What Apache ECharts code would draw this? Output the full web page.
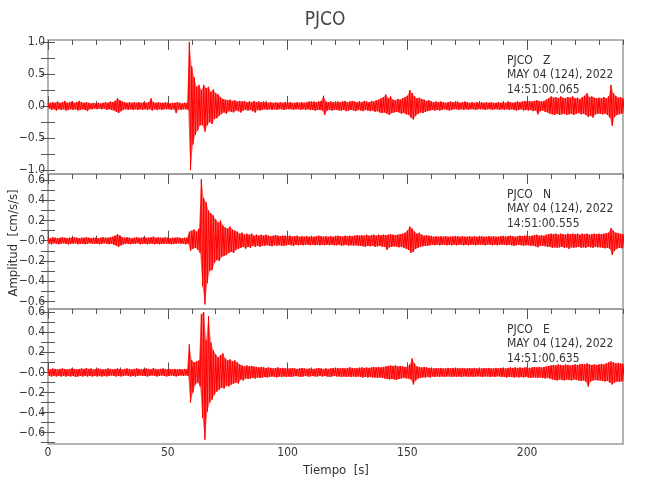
<!DOCTYPE html>
<html><head><meta charset="utf-8">
<script src="https://cdn.jsdelivr.net/npm/echarts@6/dist/echarts.min.js"></script>
<style>html,body{margin:0;padding:0;background:#fff}#c{width:650px;height:500px}</style>
</head><body><div id="c"></div>
<script>
const FONT = "'Liberation Sans Narrow','DejaVu Sans Condensed','Arial Narrow',sans-serif";
const stationName = 'PJCO';
const components = ['Z', 'N', 'E'];
const dateLabel = 'MAY 04 (124), 2022';
const startTimes = ['14:51:00.065', '14:51:00.555', '14:51:00.635'];
const xLabel = 'Tiempo  [s]';
const yLabel = 'Amplitud  [cm/s/s]';
const xMajorTicks = [0, 50, 100, 150, 200];
const xMinorTicks = [10, 20, 30, 40, 60, 70, 80, 90, 110, 120, 130, 140, 160, 170, 180, 190, 210, 220, 230, 240];
const xRange = [0, 240];
const yRanges = [[-1.06, 1.03], [-0.675, 0.66], [-0.713, 0.632]];
const yLabelValues = [
  [1, 0.5, 0, -0.5, -1],
  [0.6, 0.4, 0.2, 0, -0.2, -0.4, -0.6],
  [0.6, 0.4, 0.2, 0, -0.2, -0.4, -0.6]
];
const yLabelText = [
  ['1.0', '0.5', '0.0', '\u22120.5', '\u22121.0'],
  ['0.6', '0.4', '0.2', '\u22120.0', '\u22120.2', '\u22120.4', '\u22120.6'],
  ['0.6', '0.4', '0.2', '\u22120.0', '\u22120.2', '\u22120.4', '\u22120.6']
];
const yTickValues = [
  [1, 0.75, 0.5, 0.25, 0, -0.25, -0.5, -0.75, -1],
  [0.6, 0.5, 0.4, 0.3, 0.2, 0.1, 0, -0.1, -0.2, -0.3, -0.4, -0.5, -0.6],
  [0.6, 0.5, 0.4, 0.3, 0.2, 0.1, 0, -0.1, -0.2, -0.3, -0.4, -0.5, -0.6, -0.7]
];

// time of each envelope sample (s)
const seconds = Array.from({length: 241}, (_, i) => i);

// Z component: upper / lower envelope per second
const zUp = [
0.04,0.05,0.06,0.05,0.07,0.05,0.06,0.08,0.05,0.06,
0.07,0.05,0.06,0.08,0.06,0.05,0.06,0.05,0.04,0.05,
0.04,0.05,0.04,0.05,0.06,0.05,0.07,0.06,0.08,0.12,
0.09,0.07,0.06,0.05,0.06,0.05,0.06,0.05,0.06,0.05,
0.06,0.05,0.06,0.12,0.06,0.05,0.06,0.05,0.05,0.06,
0.05,0.04,0.05,0.05,0.06,0.05,0.04,0.05,0.05,1.0,
0.62,0.45,0.3,0.33,0.25,0.33,0.28,0.3,0.22,0.26,
0.2,0.18,0.14,0.11,0.1,0.09,0.1,0.08,0.09,0.07,
0.08,0.07,0.08,0.06,0.07,0.06,0.08,0.06,0.07,0.06,
0.06,0.07,0.05,0.06,0.05,0.06,0.05,0.06,0.05,0.06,
0.05,0.06,0.05,0.05,0.06,0.05,0.06,0.05,0.06,0.07,
0.06,0.07,0.06,0.07,0.08,0.16,0.07,0.06,0.07,0.06,
0.06,0.07,0.06,0.07,0.08,0.06,0.07,0.08,0.07,0.06,
0.07,0.06,0.08,0.07,0.06,0.08,0.07,0.09,0.1,0.12,
0.14,0.18,0.12,0.15,0.1,0.09,0.11,0.1,0.12,0.14,
0.16,0.25,0.2,0.15,0.12,0.13,0.11,0.1,0.08,0.09,
0.07,0.06,0.07,0.06,0.07,0.06,0.05,0.06,0.07,0.06,
0.06,0.07,0.05,0.06,0.07,0.06,0.05,0.06,0.05,0.06,
0.05,0.06,0.05,0.06,0.05,0.06,0.05,0.05,0.06,0.05,
0.06,0.05,0.07,0.06,0.05,0.06,0.07,0.06,0.07,0.08,
0.07,0.08,0.07,0.08,0.09,0.08,0.07,0.08,0.1,0.12,
0.15,0.13,0.14,0.12,0.15,0.13,0.12,0.14,0.13,0.15,
0.12,0.13,0.11,0.14,0.16,0.2,0.14,0.15,0.13,0.12,
0.13,0.12,0.14,0.12,0.15,0.33,0.2,0.16,0.13,0.14,0.12
];
const zLo = [
-0.04,-0.06,-0.05,-0.07,-0.05,-0.06,-0.05,-0.07,-0.06,-0.05,
-0.06,-0.05,-0.07,-0.06,-0.05,-0.06,-0.08,-0.05,-0.05,-0.04,
-0.05,-0.04,-0.05,-0.04,-0.06,-0.05,-0.06,-0.07,-0.09,-0.11,
-0.08,-0.06,-0.05,-0.06,-0.05,-0.06,-0.05,-0.06,-0.05,-0.06,
-0.05,-0.06,-0.05,-0.07,-0.05,-0.06,-0.05,-0.06,-0.05,-0.05,
-0.05,-0.06,-0.05,-0.11,-0.05,-0.06,-0.05,-0.05,-0.06,-1.0,
-0.6,-0.45,-0.38,-0.3,-0.3,-0.4,-0.3,-0.25,-0.28,-0.2,
-0.19,-0.15,-0.12,-0.1,-0.12,-0.08,-0.09,-0.1,-0.07,-0.08,
-0.1,-0.07,-0.06,-0.07,-0.06,-0.08,-0.1,-0.06,-0.07,-0.06,
-0.05,-0.06,-0.05,-0.06,-0.05,-0.06,-0.05,-0.05,-0.06,-0.05,
-0.05,-0.05,-0.06,-0.05,-0.05,-0.06,-0.05,-0.06,-0.05,-0.06,
-0.06,-0.07,-0.06,-0.06,-0.07,-0.14,-0.07,-0.06,-0.07,-0.06,
-0.06,-0.07,-0.07,-0.06,-0.08,-0.07,-0.06,-0.07,-0.08,-0.06,
-0.07,-0.08,-0.06,-0.07,-0.08,-0.07,-0.09,-0.08,-0.1,-0.11,
-0.1,-0.12,-0.14,-0.11,-0.1,-0.09,-0.1,-0.12,-0.11,-0.13,
-0.14,-0.18,-0.21,-0.15,-0.12,-0.1,-0.11,-0.09,-0.08,-0.07,
-0.06,-0.07,-0.06,-0.07,-0.06,-0.05,-0.06,-0.07,-0.06,-0.05,
-0.05,-0.06,-0.05,-0.06,-0.05,-0.06,-0.05,-0.05,-0.06,-0.05,
-0.05,-0.05,-0.06,-0.05,-0.05,-0.06,-0.05,-0.05,-0.06,-0.05,
-0.06,-0.05,-0.06,-0.05,-0.06,-0.07,-0.06,-0.05,-0.07,-0.06,
-0.07,-0.06,-0.08,-0.07,-0.13,-0.08,-0.07,-0.09,-0.1,-0.12,
-0.13,-0.14,-0.12,-0.14,-0.13,-0.12,-0.14,-0.13,-0.12,-0.14,
-0.12,-0.11,-0.13,-0.12,-0.14,-0.17,-0.15,-0.18,-0.13,-0.12,
-0.12,-0.13,-0.12,-0.14,-0.18,-0.31,-0.17,-0.14,-0.13,-0.12,-0.11
];

// N component
const nUp = [
0.03,0.025,0.035,0.03,0.025,0.03,0.035,0.03,0.025,0.03,
0.03,0.035,0.03,0.025,0.03,0.03,0.035,0.03,0.025,0.03,
0.03,0.025,0.03,0.035,0.03,0.03,0.035,0.04,0.05,0.065,
0.05,0.035,0.03,0.035,0.03,0.025,0.03,0.035,0.03,0.03,
0.035,0.03,0.03,0.035,0.04,0.03,0.035,0.03,0.03,0.035,
0.03,0.025,0.03,0.03,0.035,0.03,0.025,0.03,0.03,0.09,
0.1,0.11,0.09,0.12,0.61,0.42,0.38,0.3,0.27,0.25,
0.21,0.18,0.2,0.15,0.13,0.12,0.14,0.11,0.1,0.09,
0.07,0.08,0.06,0.07,0.06,0.07,0.05,0.06,0.05,0.06,
0.05,0.06,0.05,0.045,0.05,0.055,0.05,0.045,0.05,0.05,
0.045,0.05,0.04,0.045,0.05,0.04,0.045,0.04,0.045,0.04,
0.045,0.04,0.045,0.05,0.045,0.04,0.045,0.04,0.045,0.04,
0.045,0.05,0.045,0.04,0.05,0.045,0.05,0.045,0.05,0.055,
0.05,0.055,0.05,0.06,0.05,0.055,0.06,0.05,0.06,0.055,
0.06,0.055,0.06,0.065,0.06,0.055,0.06,0.065,0.07,0.08,
0.1,0.14,0.12,0.09,0.07,0.08,0.06,0.05,0.055,0.05,
0.045,0.04,0.045,0.04,0.045,0.04,0.045,0.04,0.04,0.045,
0.04,0.045,0.04,0.045,0.04,0.04,0.045,0.04,0.045,0.04,
0.04,0.045,0.04,0.04,0.045,0.04,0.045,0.04,0.04,0.045,
0.045,0.04,0.045,0.05,0.045,0.04,0.045,0.05,0.045,0.05,
0.05,0.045,0.05,0.055,0.06,0.05,0.055,0.05,0.06,0.065,
0.07,0.065,0.07,0.06,0.07,0.065,0.06,0.07,0.065,0.07,
0.065,0.07,0.06,0.07,0.065,0.07,0.06,0.065,0.07,0.065,
0.07,0.065,0.07,0.075,0.08,0.125,0.1,0.08,0.075,0.07,0.065
];
const nLo = [
-0.03,-0.035,-0.025,-0.03,-0.035,-0.03,-0.025,-0.03,-0.035,-0.03,
-0.03,-0.025,-0.035,-0.03,-0.03,-0.035,-0.03,-0.025,-0.03,-0.03,
-0.03,-0.035,-0.03,-0.025,-0.03,-0.035,-0.03,-0.04,-0.05,-0.06,
-0.045,-0.035,-0.03,-0.03,-0.035,-0.03,-0.03,-0.025,-0.035,-0.03,
-0.03,-0.035,-0.03,-0.03,-0.035,-0.03,-0.035,-0.03,-0.03,-0.03,
-0.03,-0.035,-0.03,-0.03,-0.025,-0.03,-0.03,-0.035,-0.03,-0.1,
-0.08,-0.07,-0.09,-0.12,-0.45,-0.63,-0.42,-0.3,-0.29,-0.22,
-0.19,-0.2,-0.16,-0.15,-0.14,-0.12,-0.11,-0.12,-0.09,-0.08,
-0.07,-0.06,-0.08,-0.06,-0.07,-0.05,-0.06,-0.05,-0.06,-0.05,
-0.05,-0.045,-0.05,-0.055,-0.045,-0.05,-0.045,-0.05,-0.05,-0.045,
-0.04,-0.045,-0.05,-0.04,-0.045,-0.04,-0.045,-0.04,-0.04,-0.045,
-0.04,-0.045,-0.04,-0.045,-0.04,-0.045,-0.04,-0.045,-0.04,-0.045,
-0.045,-0.04,-0.05,-0.045,-0.04,-0.05,-0.045,-0.05,-0.045,-0.05,
-0.05,-0.055,-0.06,-0.05,-0.055,-0.05,-0.06,-0.055,-0.05,-0.06,
-0.06,-0.09,-0.065,-0.06,-0.055,-0.06,-0.065,-0.06,-0.07,-0.08,
-0.09,-0.12,-0.11,-0.08,-0.07,-0.06,-0.055,-0.05,-0.05,-0.045,
-0.04,-0.045,-0.04,-0.045,-0.04,-0.04,-0.045,-0.04,-0.045,-0.04,
-0.045,-0.04,-0.04,-0.045,-0.04,-0.045,-0.04,-0.04,-0.045,-0.04,
-0.04,-0.04,-0.045,-0.04,-0.04,-0.045,-0.04,-0.045,-0.04,-0.04,
-0.04,-0.045,-0.04,-0.045,-0.05,-0.045,-0.04,-0.045,-0.05,-0.045,
-0.045,-0.05,-0.05,-0.055,-0.065,-0.05,-0.05,-0.055,-0.06,-0.06,
-0.07,-0.065,-0.07,-0.065,-0.06,-0.07,-0.065,-0.08,-0.065,-0.07,
-0.065,-0.06,-0.07,-0.065,-0.07,-0.06,-0.065,-0.07,-0.06,-0.065,
-0.065,-0.07,-0.075,-0.07,-0.08,-0.14,-0.1,-0.08,-0.07,-0.075,-0.07
];

// E component
const eUp = [
0.035,0.03,0.04,0.035,0.03,0.035,0.04,0.035,0.03,0.035,
0.04,0.035,0.03,0.035,0.04,0.035,0.045,0.035,0.04,0.03,
0.035,0.04,0.035,0.03,0.035,0.04,0.035,0.03,0.035,0.04,
0.035,0.03,0.035,0.04,0.035,0.03,0.035,0.04,0.035,0.03,
0.035,0.04,0.035,0.03,0.045,0.035,0.03,0.035,0.04,0.035,
0.03,0.035,0.03,0.035,0.03,0.035,0.03,0.035,0.03,0.28,
0.12,0.1,0.11,0.12,0.58,0.6,0.32,0.56,0.3,0.22,
0.18,0.15,0.17,0.19,0.14,0.12,0.13,0.11,0.12,0.1,
0.08,0.07,0.06,0.07,0.06,0.065,0.06,0.055,0.05,0.055,
0.05,0.045,0.05,0.045,0.04,0.045,0.05,0.04,0.045,0.04,
0.045,0.04,0.045,0.04,0.035,0.04,0.045,0.04,0.035,0.04,
0.04,0.035,0.04,0.045,0.04,0.035,0.04,0.035,0.04,0.045,
0.04,0.045,0.04,0.045,0.04,0.045,0.05,0.045,0.04,0.045,
0.045,0.05,0.045,0.05,0.045,0.05,0.055,0.05,0.055,0.05,
0.055,0.06,0.065,0.07,0.065,0.07,0.06,0.065,0.06,0.055,
0.06,0.08,0.14,0.09,0.06,0.055,0.05,0.055,0.05,0.045,
0.045,0.04,0.045,0.04,0.045,0.04,0.04,0.045,0.04,0.045,
0.04,0.045,0.04,0.045,0.04,0.04,0.045,0.04,0.045,0.04,
0.04,0.04,0.045,0.04,0.045,0.04,0.04,0.045,0.04,0.045,
0.045,0.04,0.045,0.05,0.045,0.05,0.045,0.05,0.045,0.05,
0.05,0.045,0.05,0.055,0.05,0.055,0.05,0.055,0.06,0.065,
0.07,0.075,0.07,0.08,0.075,0.07,0.08,0.075,0.07,0.075,
0.08,0.075,0.08,0.085,0.08,0.09,0.08,0.075,0.08,0.075,
0.08,0.085,0.08,0.09,0.1,0.11,0.1,0.09,0.095,0.09,0.085
];
const eLo = [
-0.035,-0.04,-0.035,-0.04,-0.035,-0.04,-0.035,-0.04,-0.035,-0.04,
-0.035,-0.045,-0.04,-0.035,-0.04,-0.035,-0.04,-0.035,-0.04,-0.035,
-0.04,-0.035,-0.04,-0.035,-0.04,-0.035,-0.03,-0.035,-0.04,-0.035,
-0.04,-0.035,-0.03,-0.035,-0.04,-0.035,-0.04,-0.035,-0.03,-0.035,
-0.035,-0.04,-0.035,-0.03,-0.035,-0.04,-0.035,-0.03,-0.035,-0.04,
-0.035,-0.03,-0.035,-0.04,-0.035,-0.03,-0.035,-0.03,-0.035,-0.3,
-0.2,-0.12,-0.1,-0.14,-0.45,-0.67,-0.39,-0.3,-0.27,-0.22,
-0.19,-0.17,-0.15,-0.16,-0.13,-0.14,-0.12,-0.11,-0.1,-0.11,
-0.07,-0.08,-0.06,-0.065,-0.06,-0.055,-0.06,-0.05,-0.055,-0.05,
-0.045,-0.05,-0.045,-0.04,-0.045,-0.05,-0.04,-0.045,-0.04,-0.045,
-0.04,-0.045,-0.04,-0.035,-0.04,-0.045,-0.04,-0.035,-0.04,-0.04,
-0.035,-0.04,-0.04,-0.035,-0.04,-0.035,-0.04,-0.045,-0.04,-0.035,
-0.04,-0.04,-0.045,-0.04,-0.045,-0.04,-0.045,-0.04,-0.045,-0.04,
-0.045,-0.05,-0.045,-0.05,-0.045,-0.05,-0.05,-0.055,-0.05,-0.055,
-0.06,-0.065,-0.07,-0.065,-0.07,-0.075,-0.065,-0.06,-0.055,-0.06,
-0.06,-0.07,-0.12,-0.08,-0.06,-0.055,-0.05,-0.05,-0.045,-0.05,
-0.04,-0.045,-0.04,-0.045,-0.04,-0.045,-0.04,-0.04,-0.045,-0.04,
-0.045,-0.04,-0.045,-0.04,-0.04,-0.045,-0.04,-0.045,-0.04,-0.04,
-0.04,-0.045,-0.04,-0.04,-0.045,-0.04,-0.045,-0.04,-0.04,-0.045,
-0.045,-0.05,-0.045,-0.045,-0.05,-0.045,-0.05,-0.045,-0.05,-0.045,
-0.05,-0.055,-0.05,-0.05,-0.055,-0.05,-0.055,-0.06,-0.055,-0.06,
-0.07,-0.075,-0.08,-0.07,-0.075,-0.08,-0.07,-0.075,-0.08,-0.07,
-0.075,-0.08,-0.085,-0.08,-0.09,-0.14,-0.09,-0.08,-0.075,-0.08,
-0.08,-0.085,-0.09,-0.085,-0.1,-0.12,-0.1,-0.09,-0.095,-0.09,-0.085
];

const envelopes = [[zUp, zLo], [nUp, nLo], [eUp, eLo]];

function zigzag(up, lo) {
  const d = [];
  for (let i = 0; i < seconds.length; i++) {
    d.push([seconds[i], up[i]]);
    d.push([seconds[i] + 0.5, lo[i]]);
  }
  return d;
}

const GRID_LEFT = 48, GRID_W = 575;
const gridTops = [40, 174, 309];
const gridHeights = [134, 135, 135];
const TICK = '#555';
const FRAME = '#9a9a9a';
const TXT = '#333';
const RED = '#ff0000';

const grid = [], xAxis = [], yAxis = [], series = [];
for (let k = 0; k < 3; k++) {
  grid.push({left: GRID_LEFT, top: gridTops[k], width: GRID_W, height: gridHeights[k],
    show: true, borderColor: FRAME, borderWidth: 1.5, backgroundColor: 'transparent'});
  const xBase = {gridIndex: k, type: 'value', min: xRange[0], max: xRange[1],
    axisLine: {show: false}, splitLine: {show: false}};
  const labelStyle = {color: TXT, fontFamily: FONT, fontSize: 12};
  xAxis.push(Object.assign({}, xBase, {position: 'bottom',
    axisTick: {show: true, inside: true, length: 10, customValues: xMajorTicks, lineStyle: {color: TICK}},
    axisLabel: Object.assign({show: k === 2, customValues: xMajorTicks, margin: 3}, labelStyle)}));
  xAxis.push(Object.assign({}, xBase, {position: 'bottom',
    axisTick: {show: true, inside: true, length: 5, customValues: xMinorTicks, lineStyle: {color: TICK}},
    axisLabel: {show: false}}));
  xAxis.push(Object.assign({}, xBase, {position: 'top',
    axisTick: {show: true, inside: true, length: 10, customValues: xMajorTicks, lineStyle: {color: TICK}},
    axisLabel: {show: false}}));
  xAxis.push(Object.assign({}, xBase, {position: 'top',
    axisTick: {show: true, inside: true, length: 5, customValues: xMinorTicks, lineStyle: {color: TICK}},
    axisLabel: {show: false}}));
  const yBase = {gridIndex: k, type: 'value', min: yRanges[k][0], max: yRanges[k][1],
    axisLine: {show: false}, splitLine: {show: false}};
  const kk = k;
  yAxis.push(Object.assign({}, yBase, {position: 'left',
    axisTick: {show: true, inside: true, length: 7, customValues: yTickValues[k], lineStyle: {color: TICK}},
    axisLabel: Object.assign({show: true, customValues: yLabelValues[k], margin: 3,
      formatter: function (v) {
        const vals = yLabelValues[kk];
        for (let j = 0; j < vals.length; j++) if (Math.abs(vals[j] - v) < 1e-9) return yLabelText[kk][j];
        return '';
      }}, labelStyle)}));
  yAxis.push(Object.assign({}, yBase, {position: 'right',
    axisTick: {show: true, inside: true, length: 7, customValues: yTickValues[k], lineStyle: {color: TICK}},
    axisLabel: {show: false}}));

  const up = envelopes[k][0], lo = envelopes[k][1];
  // envelope band drawn as one polygon through the axis scales
  series.push({type: 'custom', xAxisIndex: 4 * k, yAxisIndex: 2 * k,
    data: [[seconds[0], up[0]]], silent: true, animation: false, z: 2, clip: true,
    renderItem: function (params, api) {
      const pts = [];
      for (let i = 0; i < seconds.length; i++) pts.push(api.coord([seconds[i], up[i]]));
      for (let i = seconds.length - 1; i >= 0; i--) pts.push(api.coord([seconds[i] + 0.5, lo[i]]));
      return {type: 'polygon', shape: {points: pts}, style: {fill: 'rgba(255,0,0,0.6)', stroke: null}};
    }});
  // oscillating trace
  series.push({type: 'line', xAxisIndex: 4 * k, yAxisIndex: 2 * k,
    data: zigzag(up, lo),
    showSymbol: false, symbol: 'none', clip: true, sampling: false,
    lineStyle: {color: RED, width: 1}, animation: false, silent: true, z: 3});
}

const graphic = [
  {type: 'text', left: 'center', x: 0, top: 11, style: {text: stationName, font: '19px ' + FONT, fill: '#444'}},
  {type: 'text', x: 14, y: 243, rotation: Math.PI / 2,
    style: {text: yLabel, font: '13px ' + FONT, fill: TXT, textAlign: 'center', textVerticalAlign: 'middle'}},
  {type: 'text', x: 336, y: 471,
    style: {text: xLabel, font: '13px ' + FONT, fill: TXT, textAlign: 'center', textVerticalAlign: 'middle'}}
];
const insetOffsets = [20.5, 35, 49.5];
for (let k = 0; k < 3; k++) {
  const lines = [stationName + '   ' + components[k], dateLabel, startTimes[k]];
  for (let j = 0; j < 3; j++) {
    graphic.push({type: 'text', x: 507, y: gridTops[k] + insetOffsets[j],
      style: {text: lines[j], font: '12px ' + FONT, fill: TXT, textAlign: 'left', textVerticalAlign: 'middle'}});
  }
}

const chart = echarts.init(document.getElementById('c'), null, {renderer: 'canvas'});
chart.setOption({animation: false, backgroundColor: '#fff', grid, xAxis, yAxis, series, graphic});
</script>
</body></html>
